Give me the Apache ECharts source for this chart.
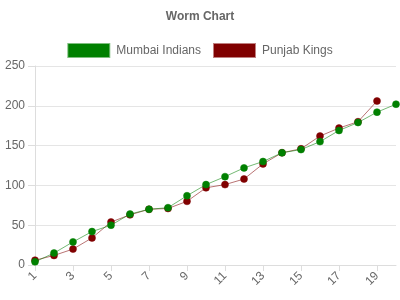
<!DOCTYPE html>
<html><head><meta charset="utf-8">
<script src="https://cdn.jsdelivr.net/npm/echarts@6/dist/echarts.min.js"></script>
<style>html,body{margin:0;padding:0;background:#fff}#c{width:400px;height:300px}</style>
</head><body><div id="c"></div>
<script>
const overs = ['1','2','3','4','5','6','7','8','9','10','11','12','13','14','15','16','17','18','19','20'];
const mumbai = [4,15,29,42,50,64,70,72,87,101,111,122,130,141,145,155,169,179,192,202];
const punjab = [6,12,20,34,54,63,70,71,80,97,101,108,127,141,146,162,172,180,206];
const yTicks = [0,50,100,150,200,250];
const chart = echarts.init(document.getElementById('c'));
chart.setOption({
  animation:false,
  textStyle:{fontFamily:'Liberation Sans, Arial, sans-serif'},
  title:{text:'Worm Chart',left:'center',top:6,textStyle:{fontSize:12,fontWeight:'bold',color:'#666'}},
  legend:{top:38,left:'center',itemWidth:41,itemHeight:13,itemGap:12,icon:'rect',
    textStyle:{fontSize:12,color:'#666',padding:[0,0,0,2]},
    data:['Mumbai Indians','Punjab Kings']},
  grid:{left:35,right:4,top:66,bottom:35},
  xAxis:{type:'category',boundaryGap:false,data:overs,
    axisLine:{lineStyle:{color:'#ddd'}},
    axisTick:{show:true,interval:1,lineStyle:{color:'#ddd'},length:6},
    axisLabel:{interval:1,rotate:45,color:'#666',fontSize:12,margin:9},
    splitLine:{show:false}},
  yAxis:{type:'value',min:yTicks[0],max:yTicks[yTicks.length-1],interval:50,
    axisLine:{show:true,lineStyle:{color:'#ddd'}},
    axisTick:{show:true,length:7,lineStyle:{color:'#ddd'}},
    axisLabel:{color:'#666',fontSize:12,margin:10},
    splitLine:{lineStyle:{color:'#e5e5e5'}}},
  series:[
    {name:'Mumbai Indians',type:'line',data:mumbai,symbol:'circle',symbolSize:7,
     itemStyle:{color:'#008000',borderColor:'rgba(0,128,0,0.5)',borderWidth:1},
     lineStyle:{color:'rgba(0,128,0,0.55)',width:1},z:3},
    {name:'Punjab Kings',type:'line',data:punjab,symbol:'circle',symbolSize:7,
     itemStyle:{color:'#800000',borderColor:'rgba(128,0,0,0.5)',borderWidth:1},
     lineStyle:{color:'rgba(128,0,0,0.55)',width:1},z:2}
  ]
});
</script></body></html>
